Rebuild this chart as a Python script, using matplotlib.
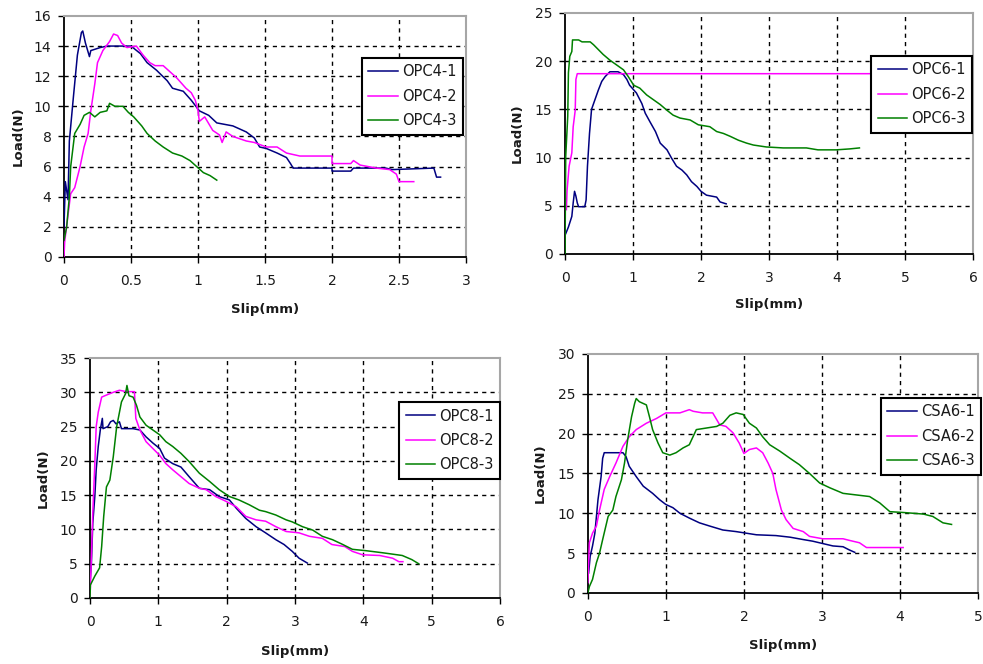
import matplotlib.pyplot as plt

NAVY = "#000080"
MAGENTA = "#FF00FF"
GREEN = "#008000"
TEXT = "#1a1a1a"
FRAME_GRAY = "#a6a6a6"

# ---------- OPC4 specimens ----------
opc4_1_slip = [0, 0.01, 0.03, 0.04, 0.07, 0.10, 0.13, 0.14, 0.16, 0.19, 0.20, 0.27, 0.32, 0.50,
               0.57, 0.62, 0.69, 0.77, 0.81, 0.89, 0.95, 1.01, 1.08, 1.14, 1.26, 1.36, 1.42,
               1.46, 1.51, 1.59, 1.66, 1.69, 1.71, 2.00, 2.00, 2.14, 2.16, 2.40, 2.45, 2.76, 2.78, 2.81]
opc4_1_load = [2.0, 5.0, 3.8, 7.7, 10.6, 13.4, 14.9, 15.0, 14.2, 13.3, 13.7, 13.9, 14.0, 14.0,
               13.5, 12.9, 12.4, 11.7, 11.2, 11.0, 10.4, 9.7, 9.4, 8.9, 8.7, 8.3, 7.9,
               7.3, 7.2, 6.9, 6.6, 6.2, 5.9, 5.9, 5.7, 5.7, 5.9, 5.9, 5.8, 5.9, 5.3, 5.3]

opc4_2_slip = [0, 0.005, 0.04, 0.05, 0.08, 0.12, 0.15, 0.18, 0.20, 0.23, 0.25, 0.29, 0.34, 0.37,
               0.40, 0.43, 0.47, 0.54, 0.59, 0.64, 0.68, 0.74, 0.79, 0.84, 0.88, 0.91, 0.95,
               0.98, 1.00, 1.01, 1.05, 1.09, 1.11, 1.16, 1.18, 1.21, 1.26, 1.36, 1.42, 1.51,
               1.59, 1.66, 1.76, 2.00, 2.00, 2.14, 2.16, 2.21, 2.33, 2.43, 2.48, 2.50, 2.61]
opc4_2_load = [0, 1.0, 3.5, 4.2, 4.6, 6.0, 7.3, 8.2, 9.7, 11.5, 12.9, 13.7, 14.3, 14.8,
               14.7, 14.2, 13.9, 14.0, 13.4, 12.9, 12.7, 12.7, 12.3, 11.9, 11.5, 11.2, 10.9,
               10.4, 9.7, 9.0, 9.3, 8.7, 8.4, 8.1, 7.6, 8.3, 8.0, 7.7, 7.6, 7.3,
               7.3, 6.9, 6.7, 6.7, 6.2, 6.2, 6.4, 6.1, 5.9, 5.8, 5.5, 5.0, 5.0]

opc4_3_slip = [0, 0.02, 0.04, 0.05, 0.08, 0.12, 0.15, 0.19, 0.23, 0.27, 0.32, 0.34, 0.38, 0.44,
               0.48, 0.52, 0.58, 0.62, 0.68, 0.74, 0.81, 0.88, 0.94, 0.99, 1.04, 1.09, 1.14]
opc4_3_load = [1.1, 2.0, 4.0, 6.0, 8.2, 8.8, 9.4, 9.6, 9.3, 9.6, 9.7, 10.2, 10.0, 10.0,
               9.6, 9.3, 8.7, 8.2, 7.7, 7.3, 6.9, 6.7, 6.4, 6.0, 5.6, 5.4, 5.1]

# ---------- OPC6 specimens ----------
opc6_1_slip = [0.01, 0.05, 0.10, 0.12, 0.14, 0.16, 0.18, 0.20, 0.29, 0.31, 0.33, 0.36, 0.39, 0.44,
               0.49, 0.54, 0.59, 0.66, 0.78, 0.86, 0.91, 0.95, 1.05, 1.13, 1.18, 1.25, 1.33,
               1.40, 1.50, 1.57, 1.64, 1.72, 1.79, 1.86, 1.94, 2.00, 2.08, 2.23, 2.28, 2.37]
opc6_1_load = [2.1, 2.8, 3.9, 5.3, 6.5, 6.0, 5.3, 4.9, 4.9, 5.6, 9.1, 12.5, 15.0, 16.0,
               17.0, 17.9, 18.4, 18.9, 18.9, 18.6, 18.1, 17.5, 16.7, 15.6, 14.6, 13.7, 12.7,
               11.5, 10.8, 9.9, 9.1, 8.7, 8.2, 7.5, 7.0, 6.5, 6.1, 5.9, 5.4, 5.2]

opc6_2_slip = [0.02, 0.03, 0.06, 0.10, 0.12, 0.15, 0.16, 0.18, 5.5]
opc6_2_load = [4.6, 6.6, 9.1, 10.5, 13.2, 14.9, 18.1, 18.7, 18.7]

opc6_3_slip = [0, 0.01, 0.04, 0.05, 0.07, 0.10, 0.11, 0.20, 0.25, 0.37, 0.42, 0.49, 0.56, 0.66,
               0.76, 0.86, 0.93, 1.01, 1.10, 1.20, 1.30, 1.40, 1.50, 1.59, 1.69, 1.84, 1.96,
               2.13, 2.23, 2.33, 2.43, 2.55, 2.67, 2.77, 2.96, 3.21, 3.55, 3.72, 3.99, 4.19, 4.33]
opc6_3_load = [0, 10.1, 14.3, 18.8, 20.5, 21.0, 22.2, 22.2, 22.0, 22.0, 21.7, 21.2, 20.7, 20.1,
               19.6, 19.1, 18.4, 17.5, 17.2, 16.5, 16.0, 15.5, 14.9, 14.4, 14.1, 13.9, 13.4,
               13.2, 12.7, 12.5, 12.2, 11.8, 11.5, 11.3, 11.1, 11.0, 11.0, 10.8, 10.8, 10.9, 11.0]

# ---------- OPC8 specimens ----------
opc8_1_slip = [0, 0.02, 0.04, 0.07, 0.09, 0.12, 0.15, 0.18, 0.19, 0.26, 0.30, 0.34, 0.38, 0.43,
               0.46, 0.63, 0.73, 0.82, 0.92, 1.02, 1.09, 1.21, 1.33, 1.45, 1.60, 1.75, 1.89,
               2.04, 2.14, 2.28, 2.43, 2.57, 2.72, 2.84, 2.96, 3.06, 3.18]
opc8_1_load = [2.2, 5.1, 10.9, 14.8, 18.7, 22.1, 24.5, 26.2, 24.7, 25.0, 25.7, 25.9, 25.4, 25.7,
               24.7, 24.7, 24.5, 23.5, 22.6, 21.8, 20.4, 19.6, 19.1, 17.7, 16.0, 15.8, 14.8,
               14.3, 13.1, 11.6, 10.4, 9.5, 8.5, 7.8, 6.8, 5.8, 5.1]

opc8_2_slip = [0, 0.02, 0.04, 0.07, 0.09, 0.12, 0.17, 0.24, 0.34, 0.43, 0.53, 0.65, 0.67, 0.73,
               0.82, 0.92, 1.02, 1.11, 1.21, 1.33, 1.45, 1.60, 1.70, 1.84, 1.99, 2.14, 2.28,
               2.43, 2.57, 2.72, 2.87, 3.06, 3.21, 3.40, 3.54, 3.73, 3.84, 3.99, 4.24, 4.43,
               4.52, 4.58]
opc8_2_load = [0.2, 6.1, 12.4, 19.6, 25.0, 27.1, 29.3, 29.6, 30.0, 30.3, 30.1, 30.1, 26.2, 24.5,
               22.8, 21.8, 20.8, 19.6, 18.7, 17.7, 16.7, 16.0, 15.8, 14.8, 14.1, 13.3, 11.9,
               11.4, 11.2, 10.4, 9.7, 9.5, 9.0, 8.7, 7.8, 7.5, 6.8, 6.3, 6.2, 5.8,
               5.3, 5.3]

opc8_3_slip = [0, 0.005, 0.07, 0.14, 0.17, 0.20, 0.24, 0.29, 0.34, 0.39, 0.46, 0.52, 0.54, 0.57,
               0.63, 0.68, 0.73, 0.82, 0.92, 1.02, 1.11, 1.21, 1.33, 1.45, 1.60, 1.75, 1.89,
               2.04, 2.18, 2.33, 2.48, 2.57, 2.72, 2.87, 2.96, 3.11, 3.26, 3.40, 3.55, 3.70,
               3.84, 4.04, 4.28, 4.57, 4.71, 4.81]
opc8_3_load = [0, 1.9, 3.2, 4.4, 7.5, 11.9, 16.2, 17.2, 20.6, 25.0, 28.6, 29.8, 31.0, 29.5,
               29.3, 28.1, 26.4, 25.2, 24.5, 23.8, 22.8, 22.1, 21.1, 19.9, 18.2, 17.0, 15.8,
               14.8, 14.3, 13.6, 12.8, 12.6, 12.1, 11.4, 11.1, 10.4, 9.9, 9.0, 8.5, 7.8,
               7.1, 6.9, 6.6, 6.2, 5.6, 5.0]

# ---------- CSA6 specimens ----------
csa6_1_slip = [0.01, 0.03, 0.06, 0.09, 0.11, 0.13, 0.17, 0.19, 0.21, 0.45, 0.49, 0.53, 0.62, 0.71,
               0.83, 0.92, 1.00, 1.09, 1.18, 1.30, 1.43, 1.56, 1.73, 1.90, 2.03, 2.16, 2.41,
               2.59, 2.76, 2.88, 3.01, 3.14, 3.27, 3.35, 3.42]
csa6_1_load = [2.5, 4.6, 5.9, 7.5, 9.6, 11.7, 14.6, 16.9, 17.6, 17.6, 17.1, 15.9, 14.6, 13.4,
               12.5, 11.7, 11.1, 10.7, 10.0, 9.4, 8.8, 8.4, 7.9, 7.7, 7.5, 7.3, 7.2,
               7.0, 6.7, 6.5, 6.2, 5.9, 5.8, 5.4, 5.1]

csa6_2_slip = [0, 0.02, 0.06, 0.11, 0.15, 0.21, 0.28, 0.36, 0.45, 0.53, 0.62, 0.75, 0.88, 1.00,
               1.18, 1.30, 1.35, 1.47, 1.60, 1.69, 1.77, 1.86, 1.94, 2.00, 2.07, 2.16, 2.24,
               2.31, 2.37, 2.41, 2.48, 2.54, 2.63, 2.76, 2.84, 3.01, 3.27, 3.35, 3.48, 3.57, 4.04]
csa6_2_load = [1.3, 6.3, 7.5, 8.4, 10.4, 13.0, 14.6, 16.3, 18.4, 19.6, 20.5, 21.3, 21.9, 22.6,
               22.6, 23.0, 22.8, 22.6, 22.6, 21.1, 20.9, 20.1, 18.8, 17.5, 18.0, 18.2, 17.6,
               16.3, 15.0, 13.0, 10.4, 9.2, 8.1, 7.7, 7.1, 6.8, 6.8, 6.6, 6.3, 5.7, 5.7]

csa6_3_slip = [0, 0.02, 0.06, 0.11, 0.15, 0.19, 0.26, 0.32, 0.36, 0.43, 0.47, 0.51, 0.56, 0.60,
               0.62, 0.66, 0.75, 0.79, 0.83, 0.90, 0.96, 1.05, 1.13, 1.22, 1.30, 1.39, 1.52,
               1.65, 1.73, 1.82, 1.90, 1.99, 2.07, 2.16, 2.24, 2.33, 2.46, 2.59, 2.71, 2.84,
               2.97, 3.10, 3.27, 3.44, 3.61, 3.74, 3.87, 4.04, 4.30, 4.42, 4.55, 4.66]
csa6_3_load = [0, 0.8, 1.7, 3.8, 5.0, 6.7, 9.6, 10.4, 12.1, 14.2, 16.3, 19.2, 22.1, 23.8,
               24.4, 24.0, 23.6, 22.1, 20.5, 18.8, 17.6, 17.3, 17.6, 18.2, 18.6, 20.5, 20.7,
               20.9, 21.3, 22.3, 22.6, 22.4, 21.3, 20.7, 19.6, 18.6, 17.8, 16.9, 16.1, 15.0,
               13.8, 13.2, 12.5, 12.3, 12.1, 11.3, 10.2, 10.1, 9.9, 9.6, 8.8, 8.6]

panels = [
    {
        "rect": [0.0651, 0.613, 0.409, 0.363],
        "xmax": 3, "xstep": 0.5, "ymax": 16, "ystep": 2,
        "series": [(opc4_1_slip, opc4_1_load, NAVY, "OPC4-1"),
                   (opc4_2_slip, opc4_2_load, MAGENTA, "OPC4-2"),
                   (opc4_3_slip, opc4_3_load, GREEN, "OPC4-3")],
        "legend_at": (0.741, 0.826),
        "xlabel_y": -0.22, "ylabel_x": -0.114,
    },
    {
        "rect": [0.5748, 0.6175, 0.415, 0.363],
        "xmax": 6, "xstep": 1, "ymax": 25, "ystep": 5,
        "series": [(opc6_1_slip, opc6_1_load, NAVY, "OPC6-1"),
                   (opc6_2_slip, opc6_2_load, MAGENTA, "OPC6-2"),
                   (opc6_3_slip, opc6_3_load, GREEN, "OPC6-3")],
        "legend_at": (0.75, 0.822),
        "xlabel_y": -0.21, "ylabel_x": -0.118,
    },
    {
        "rect": [0.0916, 0.0994, 0.417, 0.3614],
        "xmax": 6, "xstep": 1, "ymax": 35, "ystep": 5,
        "series": [(opc8_1_slip, opc8_1_load, NAVY, "OPC8-1"),
                   (opc8_2_slip, opc8_2_load, MAGENTA, "OPC8-2"),
                   (opc8_3_slip, opc8_3_load, GREEN, "OPC8-3")],
        "legend_at": (0.754, 0.817),
        "xlabel_y": -0.225, "ylabel_x": -0.115,
    },
    {
        "rect": [0.598, 0.107, 0.397, 0.36],
        "xmax": 5, "xstep": 1, "ymax": 30, "ystep": 5,
        "series": [(csa6_1_slip, csa6_1_load, NAVY, "CSA6-1"),
                   (csa6_2_slip, csa6_2_load, MAGENTA, "CSA6-2"),
                   (csa6_3_slip, csa6_3_load, GREEN, "CSA6-3")],
        "legend_at": (0.751, 0.816),
        "xlabel_y": -0.218, "ylabel_x": -0.123,
    },
]

plt.rcParams["font.family"] = "DejaVu Sans"

fig = plt.figure(figsize=(9.83, 6.64), dpi=100)

for p in panels:
    ax = fig.add_axes(p["rect"])
    for slip, load, color, label in p["series"]:
        ax.plot(slip, load, color=color, linewidth=1.1, label=label, zorder=3)

    nx = int(round(p["xmax"] / p["xstep"]))
    ny = int(round(p["ymax"] / p["ystep"]))
    ax.set_xlim(0, p["xmax"])
    ax.set_ylim(0, p["ymax"])
    ax.set_xticks([i * p["xstep"] for i in range(nx + 1)])
    ax.set_yticks([i * p["ystep"] for i in range(ny + 1)])
    ax.set_xticklabels([f"{i * p['xstep']:g}" for i in range(nx + 1)])

    # dashed grid on the interior ticks only; the frame covers the edges
    ax.set_axisbelow(True)
    ax.grid(True, color="black", linewidth=1.0, linestyle=(0, (3, 3)))
    for lines in (ax.get_xgridlines(), ax.get_ygridlines()):
        lines[0].set_visible(False)
        lines[-1].set_visible(False)

    for side in ("top", "right"):
        ax.spines[side].set_color(FRAME_GRAY)
        ax.spines[side].set_linewidth(1.5)
    for side in ("left", "bottom"):
        ax.spines[side].set_color("black")
        ax.spines[side].set_linewidth(1.3)

    ax.tick_params(direction="out", length=4, width=1, colors="black",
                   labelcolor=TEXT, labelsize=10)
    ax.tick_params(axis="x", pad=8)
    ax.tick_params(axis="y", pad=5)

    ax.set_xlabel("Slip(mm)", fontsize=9.5, fontweight="bold", color=TEXT)
    ax.set_ylabel("Load(N)", fontsize=9.5, fontweight="bold", color=TEXT)
    ax.xaxis.set_label_coords(0.5, p["xlabel_y"])
    ax.xaxis.label.set_va("center")
    ax.yaxis.set_label_coords(p["ylabel_x"], 0.5)
    ax.yaxis.label.set_va("center")

    leg = ax.legend(loc="upper left", bbox_to_anchor=p["legend_at"], borderaxespad=0,
                    fontsize=10.5, frameon=True, fancybox=False, framealpha=1,
                    edgecolor="black", handlelength=2.0, handletextpad=0.3,
                    labelspacing=0.65, borderpad=0.45)
    leg.get_frame().set_linewidth(1.5)
    leg.set_zorder(5)
    for t in leg.get_texts():
        t.set_color(TEXT)

fig.savefig("out.png", dpi=100, facecolor="white")
